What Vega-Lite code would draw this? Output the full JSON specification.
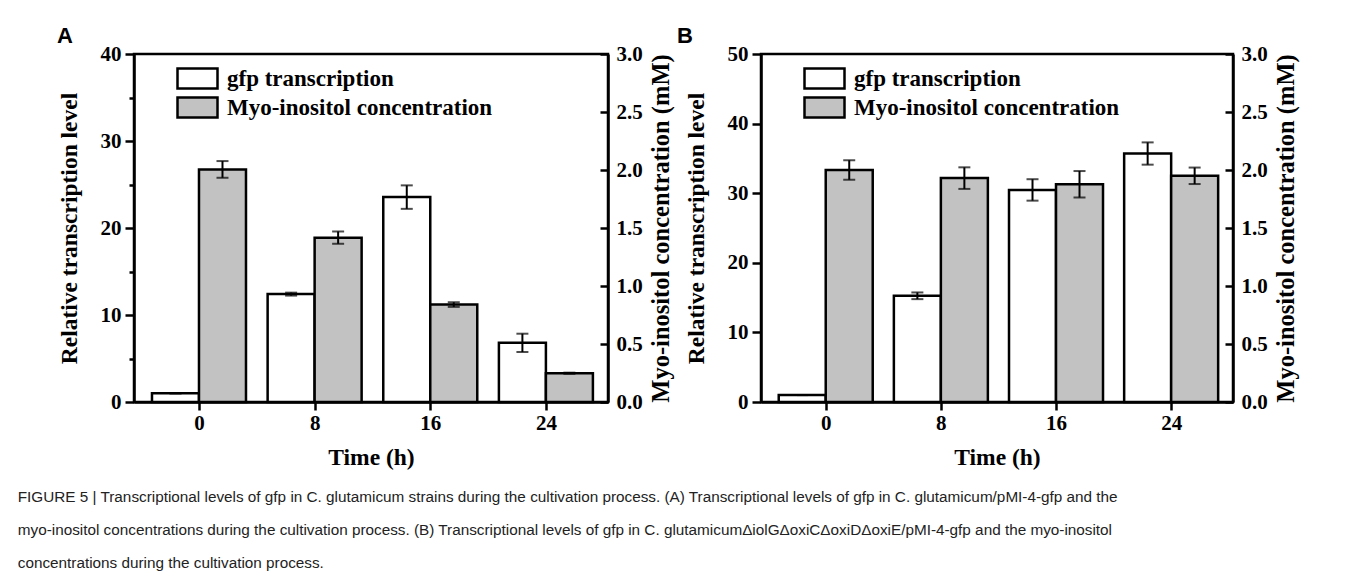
{
  "$schema": "https://vega.github.io/schema/vega-lite/v6.json",
  "background": "white",
  "padding": {"left": 17, "top": 23, "right": 5, "bottom": 5},
  "spacing": 1,
  "title": {
    "text": [
      "FIGURE 5 | Transcriptional levels of gfp in C. glutamicum strains during the cultivation process. (A) Transcriptional levels of gfp in C. glutamicum/pMI-4-gfp and the",
      "myo-inositol concentrations during the cultivation process. (B) Transcriptional levels of gfp in C. glutamicumΔiolGΔoxiCΔoxiDΔoxiE/pMI-4-gfp and the myo-inositol",
      "concentrations during the cultivation process."
    ],
    "orient": "bottom",
    "anchor": "start",
    "frame": "bounds",
    "font": "Liberation Sans, Arial",
    "fontSize": 15.3,
    "fontWeight": "normal",
    "color": "#222222",
    "lineHeight": 33,
    "offset": 20,
    "dx": -38
  },
  "resolve": {"scale": {"color": "independent"}, "legend": {"color": "independent"}},
  "hconcat": [
    {
      "title": {"text": "A", "anchor": "start", "frame": "bounds", "font": "Liberation Sans, Arial", "fontSize": 22, "fontWeight": "bold", "color": "black", "offset": -5, "dx": 0},
      "width": 474,
      "height": 348,
      "data": {"values": [
        {"time": 0, "series": "gfp transcription", "value": 1.0, "lo": 1.0, "hi": 1.0},
        {"time": 8, "series": "gfp transcription", "value": 12.4, "lo": 12.23, "hi": 12.57},
        {"time": 16, "series": "gfp transcription", "value": 23.55, "lo": 22.2, "hi": 24.9},
        {"time": 24, "series": "gfp transcription", "value": 6.8, "lo": 5.75, "hi": 7.85},
        {"time": 0, "series": "Myo-inositol concentration", "value": 2.005, "lo": 1.933, "hi": 2.077},
        {"time": 8, "series": "Myo-inositol concentration", "value": 1.417, "lo": 1.364, "hi": 1.47},
        {"time": 16, "series": "Myo-inositol concentration", "value": 0.84, "lo": 0.82, "hi": 0.86},
        {"time": 24, "series": "Myo-inositol concentration", "value": 0.248, "lo": 0.243, "hi": 0.253}
      ]},
      "encoding": {
        "x": {"field": "time", "type": "quantitative", "scale": {"domain": [-4.15, 27.95], "nice": false, "zero": false},
              "axis": {"values": [0, 8, 16, 24], "title": "Time (h)", "titlePadding": 12, "labelPadding": 2}}
      },
      "layer": [
        {
          "transform": [{"filter": "datum.series === 'gfp transcription'"}],
          "layer": [
            {"mark": {"type": "bar", "orient": "vertical", "width": 47, "xOffset": -23.5, "stroke": "black", "strokeWidth": 2.5},
             "encoding": {
               "y": {"field": "value", "type": "quantitative", "stack": null, "title": "Relative transcription level",
                     "scale": {"domain": [0, 40], "nice": false},
                     "axis": {"orient": "left", "values": [0, 5, 10, 15, 20, 25, 30, 35, 40], "labelExpr": "datum.value % 10 === 0 ? datum.label : ''",
                              "tickSize": {"condition": {"test": "datum.value % 10 !== 0", "value": 5}, "value": 9}, "labelPadding": 4, "titlePadding": 19}},
               "color": {"field": "series", "type": "nominal", "scale": {"domain": ["gfp transcription", "Myo-inositol concentration"], "range": ["#ffffff", "#c2c2c2"]},
                         "legend": {"title": null, "orient": "none", "legendX": 52, "legendY": 13, "symbolStrokeColor": "black", "symbolStrokeWidth": 2.5}}
             }},
            {"mark": {"type": "rule", "xOffset": -23.5, "strokeWidth": 2, "color": "black"},
             "encoding": {"y": {"field": "lo", "type": "quantitative", "title": "Relative transcription level"}, "y2": {"field": "hi"}}},
            {"mark": {"type": "tick", "orient": "horizontal", "size": 12, "thickness": 2, "xOffset": -23.5, "color": "black"},
             "encoding": {"y": {"field": "lo", "type": "quantitative", "title": "Relative transcription level"}}},
            {"mark": {"type": "tick", "orient": "horizontal", "size": 12, "thickness": 2, "xOffset": -23.5, "color": "black"},
             "encoding": {"y": {"field": "hi", "type": "quantitative", "title": "Relative transcription level"}}}
          ]
        },
        {
          "transform": [{"filter": "datum.series === 'Myo-inositol concentration'"}],
          "layer": [
            {"mark": {"type": "bar", "orient": "vertical", "width": 47, "xOffset": 23.5, "stroke": "black", "strokeWidth": 2.5},
             "encoding": {
               "y": {"field": "value", "type": "quantitative", "stack": null, "title": "Myo-inositol concentration (mM)",
                     "scale": {"domain": [0, 3], "nice": false},
                     "axis": {"orient": "right", "values": [0, 0.25, 0.5, 0.75, 1, 1.25, 1.5, 1.75, 2, 2.25, 2.5, 2.75, 3], "format": ".1f",
                              "labelExpr": "datum.value % 0.5 === 0 ? datum.label : ''",
                              "tickSize": {"condition": {"test": "datum.value % 0.5 !== 0", "value": -5}, "value": -8}, "labelPadding": 16,
                              "titleAngle": 270, "titleBaseline": "top", "titlePadding": 7, "titleFontSize": 24.5}},
               "color": {"field": "series", "type": "nominal", "scale": {"domain": ["gfp transcription", "Myo-inositol concentration"], "range": ["#ffffff", "#c2c2c2"]}}
             }},
            {"mark": {"type": "rule", "xOffset": 23.5, "strokeWidth": 2, "color": "black"},
             "encoding": {"y": {"field": "lo", "type": "quantitative", "title": "Myo-inositol concentration (mM)"}, "y2": {"field": "hi"}}},
            {"mark": {"type": "tick", "orient": "horizontal", "size": 12, "thickness": 2, "xOffset": 23.5, "color": "black"},
             "encoding": {"y": {"field": "lo", "type": "quantitative", "title": "Myo-inositol concentration (mM)"}}},
            {"mark": {"type": "tick", "orient": "horizontal", "size": 12, "thickness": 2, "xOffset": 23.5, "color": "black"},
             "encoding": {"y": {"field": "hi", "type": "quantitative", "title": "Myo-inositol concentration (mM)"}}}
          ]
        }
      ],
      "resolve": {"scale": {"y": "independent"}}
    },
    {
      "title": {"text": "B", "anchor": "start", "frame": "bounds", "font": "Liberation Sans, Arial", "fontSize": 22, "fontWeight": "bold", "color": "black", "offset": -5, "dx": -7},
      "width": 472,
      "height": 348,
      "data": {"values": [
        {"time": 0, "series": "gfp transcription", "value": 1.0, "lo": 1.0, "hi": 1.0},
        {"time": 8, "series": "gfp transcription", "value": 15.26, "lo": 14.78, "hi": 15.74},
        {"time": 16, "series": "gfp transcription", "value": 30.47, "lo": 28.93, "hi": 32.01},
        {"time": 24, "series": "gfp transcription", "value": 35.7, "lo": 34.1, "hi": 37.3},
        {"time": 0, "series": "Myo-inositol concentration", "value": 2.0, "lo": 1.916, "hi": 2.084},
        {"time": 8, "series": "Myo-inositol concentration", "value": 1.93, "lo": 1.837, "hi": 2.023},
        {"time": 16, "series": "Myo-inositol concentration", "value": 1.877, "lo": 1.763, "hi": 1.991},
        {"time": 24, "series": "Myo-inositol concentration", "value": 1.95, "lo": 1.879, "hi": 2.021}
      ]},
      "encoding": {
        "x": {"field": "time", "type": "quantitative", "scale": {"domain": [-4.15, 27.95], "nice": false, "zero": false},
              "axis": {"values": [0, 8, 16, 24], "title": "Time (h)", "titlePadding": 12, "labelPadding": 2}}
      },
      "layer": [
        {
          "transform": [{"filter": "datum.series === 'gfp transcription'"}],
          "layer": [
            {"mark": {"type": "bar", "orient": "vertical", "width": 47, "xOffset": -23.5, "stroke": "black", "strokeWidth": 2.5},
             "encoding": {
               "y": {"field": "value", "type": "quantitative", "stack": null, "title": "Relative transcription level",
                     "scale": {"domain": [0, 50], "nice": false},
                     "axis": {"orient": "left", "values": [0, 5, 10, 15, 20, 25, 30, 35, 40, 45, 50], "labelExpr": "datum.value % 10 === 0 ? datum.label : ''",
                              "tickSize": {"condition": {"test": "datum.value % 10 !== 0", "value": 5}, "value": 9}, "labelPadding": 4, "titlePadding": 19}},
               "color": {"field": "series", "type": "nominal", "scale": {"domain": ["gfp transcription", "Myo-inositol concentration"], "range": ["#ffffff", "#c2c2c2"]},
                         "legend": {"title": null, "orient": "none", "legendX": 52, "legendY": 13, "symbolStrokeColor": "black", "symbolStrokeWidth": 2.5}}
             }},
            {"mark": {"type": "rule", "xOffset": -23.5, "strokeWidth": 2, "color": "black"},
             "encoding": {"y": {"field": "lo", "type": "quantitative", "title": "Relative transcription level"}, "y2": {"field": "hi"}}},
            {"mark": {"type": "tick", "orient": "horizontal", "size": 12, "thickness": 2, "xOffset": -23.5, "color": "black"},
             "encoding": {"y": {"field": "lo", "type": "quantitative", "title": "Relative transcription level"}}},
            {"mark": {"type": "tick", "orient": "horizontal", "size": 12, "thickness": 2, "xOffset": -23.5, "color": "black"},
             "encoding": {"y": {"field": "hi", "type": "quantitative", "title": "Relative transcription level"}}}
          ]
        },
        {
          "transform": [{"filter": "datum.series === 'Myo-inositol concentration'"}],
          "layer": [
            {"mark": {"type": "bar", "orient": "vertical", "width": 47, "xOffset": 23.5, "stroke": "black", "strokeWidth": 2.5},
             "encoding": {
               "y": {"field": "value", "type": "quantitative", "stack": null, "title": "Myo-inositol concentration (mM)",
                     "scale": {"domain": [0, 3], "nice": false},
                     "axis": {"orient": "right", "values": [0, 0.25, 0.5, 0.75, 1, 1.25, 1.5, 1.75, 2, 2.25, 2.5, 2.75, 3], "format": ".1f",
                              "labelExpr": "datum.value % 0.5 === 0 ? datum.label : ''",
                              "tickSize": {"condition": {"test": "datum.value % 0.5 !== 0", "value": -5}, "value": -8}, "labelPadding": 16,
                              "titleAngle": 270, "titleBaseline": "top", "titlePadding": 7, "titleFontSize": 24.5}},
               "color": {"field": "series", "type": "nominal", "scale": {"domain": ["gfp transcription", "Myo-inositol concentration"], "range": ["#ffffff", "#c2c2c2"]}}
             }},
            {"mark": {"type": "rule", "xOffset": 23.5, "strokeWidth": 2, "color": "black"},
             "encoding": {"y": {"field": "lo", "type": "quantitative", "title": "Myo-inositol concentration (mM)"}, "y2": {"field": "hi"}}},
            {"mark": {"type": "tick", "orient": "horizontal", "size": 12, "thickness": 2, "xOffset": 23.5, "color": "black"},
             "encoding": {"y": {"field": "lo", "type": "quantitative", "title": "Myo-inositol concentration (mM)"}}},
            {"mark": {"type": "tick", "orient": "horizontal", "size": 12, "thickness": 2, "xOffset": 23.5, "color": "black"},
             "encoding": {"y": {"field": "hi", "type": "quantitative", "title": "Myo-inositol concentration (mM)"}}}
          ]
        }
      ],
      "resolve": {"scale": {"y": "independent"}}
    }
  ],
  "config": {
    "view": {"stroke": "black", "strokeWidth": 2.5},
    "axis": {
      "grid": false,
      "domainColor": "black", "domainWidth": 2.5,
      "tickColor": "black", "tickWidth": 2.5, "tickSize": 8,
      "labelFont": "Liberation Serif", "labelFontWeight": "bold", "labelFontSize": 21, "labelColor": "black", "labelPadding": 2,
      "titleFont": "Liberation Serif", "titleFontWeight": "bold", "titleFontSize": 23.5, "titleColor": "black"
    },
    "legend": {
      "symbolType": "M-2,-1H2V1H-2Z",
      "symbolSize": 400,
      "symbolStrokeColor": "black",
      "symbolStrokeWidth": 2.5,
      "labelFont": "Liberation Serif", "labelFontWeight": "bold", "labelFontSize": 23, "labelColor": "black",
      "labelOffset": 18,
      "rowPadding": -2,
      "padding": 0,
      "labelLimit": 400
    }
  }
}
